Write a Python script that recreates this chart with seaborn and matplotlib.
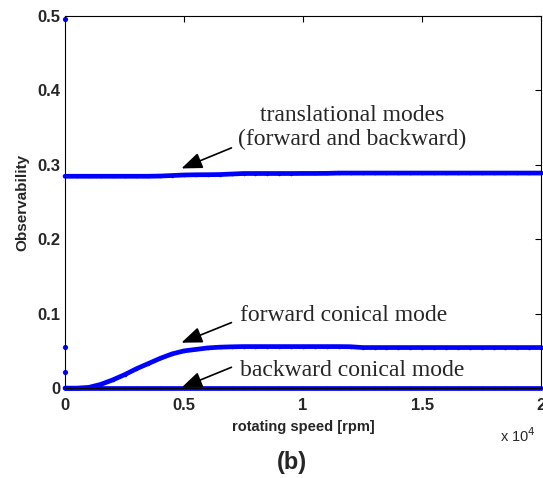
import numpy as np
import pandas as pd
import matplotlib
matplotlib.use("Agg")
import matplotlib.pyplot as plt
import seaborn as sns
from matplotlib.ticker import FuncFormatter, MultipleLocator

# Rotating speed grid [rpm]
speed = [0, 500, 1000, 1500, 2000, 2500, 3000, 3500, 4000, 4500,
         5000, 5500, 6000, 6500, 7000, 7500, 8000, 8500, 9000, 9500,
         10000, 10500, 11000, 11500, 12000, 12500, 13000, 13500, 14000, 14500,
         15000, 15500, 16000, 16500, 17000, 17500, 18000, 18500, 19000, 19500,
         20000]

# Observability of each mode
translational = [0.2845, 0.2845, 0.2845, 0.2845, 0.2845, 0.2845, 0.2845, 0.2845, 0.2848, 0.2855,
                 0.2862, 0.2865, 0.2866, 0.2868, 0.2875, 0.2882, 0.2882, 0.2882, 0.2882, 0.2882,
                 0.2883, 0.2883, 0.2884, 0.2888, 0.2888, 0.2888, 0.2888, 0.2888, 0.2888, 0.2888,
                 0.2888, 0.2888, 0.2888, 0.2888, 0.2888, 0.2888, 0.2888, 0.2888, 0.2888, 0.2888,
                 0.2888]
forward_conical = [0.0, 0.0, 0.001, 0.005, 0.011, 0.018, 0.026, 0.033, 0.040, 0.046,
                   0.050, 0.052, 0.054, 0.055, 0.0555, 0.0558, 0.0558, 0.0558, 0.0558, 0.0558,
                   0.0558, 0.0558, 0.0558, 0.0558, 0.0556, 0.0545, 0.0545, 0.0545, 0.0545, 0.0545,
                   0.0545, 0.0545, 0.0545, 0.0545, 0.0545, 0.0545, 0.0545, 0.0545, 0.0545, 0.0545,
                   0.0545]
backward_conical = [0.0] * len(speed)

# Isolated values at standstill
standstill_speed = [0, 0, 0]
standstill_obs = [0.495, 0.055, 0.021]

df = pd.concat([
    pd.DataFrame({"speed": speed, "obs": translational, "mode": "translational"}),
    pd.DataFrame({"speed": speed, "obs": forward_conical, "mode": "forward conical"}),
    pd.DataFrame({"speed": speed, "obs": backward_conical, "mode": "backward conical"}),
])

sns.set_style("white")
plt.rcParams["font.family"] = ["Liberation Sans", "DejaVu Sans"]

fig = plt.figure(figsize=(5.43, 4.78), dpi=100)
ax = fig.add_axes([0.1197, 0.188, 0.877, 0.779])

blue = "#0000ff"
sns.lineplot(data=df, x="speed", y="obs", units="mode", estimator=None,
             color=blue, lw=3.4, marker=".", markersize=5, markeredgewidth=0,
             ax=ax, legend=False, clip_on=False)
sns.scatterplot(x=standstill_speed, y=standstill_obs, color=blue, s=14,
                linewidth=0, ax=ax, clip_on=False, legend=False)

ax.set_xlim(0, 20000)
ax.set_ylim(0, 0.5)
ax.xaxis.set_major_locator(MultipleLocator(5000))
ax.yaxis.set_major_locator(MultipleLocator(0.1))
ax.xaxis.set_major_formatter(FuncFormatter(lambda v, p: f"{v/1e4:g}"))
ax.yaxis.set_major_formatter(FuncFormatter(lambda v, p: f"{v:g}"))
ax.tick_params(direction="in", length=4, width=0.8, top=True, right=True,
               labelsize=12, color="black")
ax.tick_params(axis="x", pad=7)
ax.tick_params(axis="y", pad=3)
for lab in ax.get_xticklabels() + ax.get_yticklabels():
    lab.set_fontweight("bold")
for s in ax.spines.values():
    s.set_color("black")
    s.set_linewidth(0.8)

ax.set_xlabel("rotating speed [rpm]", fontsize=10.5, fontweight="bold", labelpad=5)
ax.set_ylabel("Observability", fontsize=11, fontweight="bold", labelpad=6)

serif = ["Liberation Serif", "DejaVu Serif"]
arrow = dict(arrowstyle="-|>,head_length=0.9,head_width=0.35", color="black",
             lw=1.2, shrinkA=0, shrinkB=0, mutation_scale=14)

ax.text(12050, 0.3497, "translational modes\n(forward and backward)", ha="center",
        va="center", fontsize=17, family=serif, linespacing=1.2)
ax.annotate("", xy=(4890, 0.295), xytext=(6990, 0.3226), arrowprops=arrow)

ax.text(7340, 0.098, "forward conical mode", ha="left", va="center",
        fontsize=17, family=serif)
ax.annotate("", xy=(4890, 0.061), xytext=(6990, 0.088), arrowprops=arrow)

ax.text(7340, 0.024, "backward conical mode", ha="left", va="center",
        fontsize=17, family=serif)
ax.annotate("", xy=(4890, 0.0006), xytext=(6990, 0.028), arrowprops=arrow)

fig.text(500 / 543, 1 - 436 / 478, r"x 10$^4$", fontsize=10.5, ha="left", va="center")
fig.text(292 / 543, 1 - 462 / 478, "(b)", fontsize=17, fontweight="bold",
         ha="center", va="center")

fig.savefig("out.png", dpi=100)
